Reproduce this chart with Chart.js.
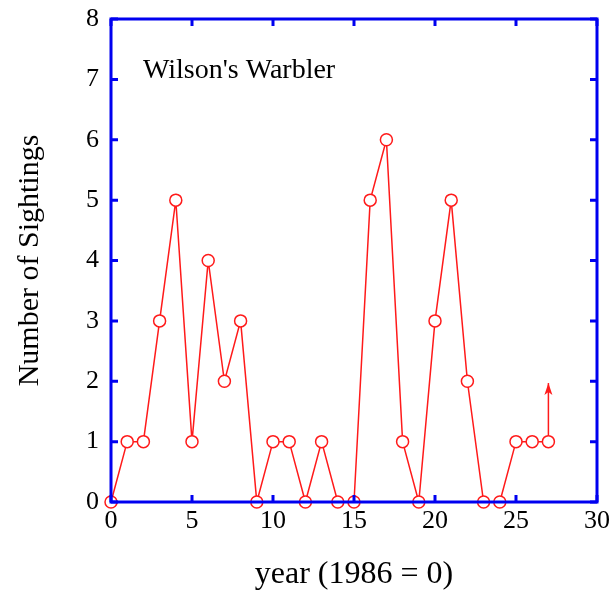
<!DOCTYPE html>
<html>
<head>
<meta charset="utf-8">
<style>
  html, body { margin: 0; padding: 0; background: #fff; }
  #wrap { width: 610px; height: 591px; }
</style>
<script src="https://cdn.jsdelivr.net/npm/chart.js@4/dist/chart.umd.min.js"></script>
</head>
<body>
<div id="wrap"><canvas id="chart" width="610" height="591"></canvas></div>
<script>
// sightings per year (year 0 = 1986)
const years = [0, 1, 2, 3, 4, 5, 6, 7, 8, 9, 10, 11, 12, 13, 14, 15, 16, 17, 18, 19, 20, 21, 22, 23, 24, 25, 26, 27];
const sightings = [0, 1, 1, 3, 5, 1, 4, 2, 3, 0, 1, 1, 0, 1, 0, 0, 5, 6, 1, 0, 3, 5, 2, 0, 0, 1, 1, 1];
// arrow on last year, pointing up
const arrowX = [27, 27];
const arrowY = [1, 1.97];
const xTicks = [0, 5, 10, 15, 20, 25, 30];
const yTicks = [0, 1, 2, 3, 4, 5, 6, 7, 8];

const BLUE = '#0000f0';
const RED = '#ff1a1a';
const SERIF = "'Liberation Serif', 'Times New Roman', serif";

// no extra room for labels hanging past the plot edges
const noPad = s => { s.paddingTop = 0; s.paddingBottom = 0; s.paddingLeft = 0; s.paddingRight = 0; };

// frame, inward ticks on all four sides, arrowhead and label
const framePlugin = {
  id: 'frame',
  afterDraw(chart) {
    const { ctx, chartArea: a, scales } = chart;
    ctx.save();
    ctx.strokeStyle = BLUE;
    ctx.lineWidth = 3;
    ctx.beginPath();
    xTicks.forEach(v => {
      const px = scales.x.getPixelForValue(v);
      ctx.moveTo(px, a.bottom); ctx.lineTo(px, a.bottom - 7);
      ctx.moveTo(px, a.top); ctx.lineTo(px, a.top + 7);
    });
    yTicks.forEach(v => {
      const py = scales.y.getPixelForValue(v);
      ctx.moveTo(a.left, py); ctx.lineTo(a.left + 7, py);
      ctx.moveTo(a.right, py); ctx.lineTo(a.right - 7, py);
    });
    ctx.stroke();
    ctx.strokeRect(a.left, a.top, a.right - a.left, a.bottom - a.top);

    // arrowhead
    const pts = chart.getDatasetMeta(1).data;
    const tip = pts[pts.length - 1];
    ctx.fillStyle = RED;
    ctx.beginPath();
    ctx.moveTo(tip.x, tip.y);
    ctx.lineTo(tip.x - 4, tip.y + 12);
    ctx.lineTo(tip.x, tip.y + 9);
    ctx.lineTo(tip.x + 4, tip.y + 12);
    ctx.closePath();
    ctx.fill();

    ctx.fillStyle = '#000';
    ctx.font = '28px ' + SERIF;
    ctx.textBaseline = 'alphabetic';
    ctx.fillText("Wilson's Warbler", a.left + 32, a.top + 59);
    ctx.restore();
  }
};

const ctx = document.getElementById('chart').getContext('2d');
new Chart(ctx, {
  type: 'scatter',
  data: {
    datasets: [{
      data: years.map((x, i) => ({ x, y: sightings[i] })),
      showLine: true,
      borderColor: RED,
      borderWidth: 1.5,
      pointRadius: 6,
      pointBorderWidth: 1.5,
      pointBackgroundColor: '#fff',
      pointBorderColor: RED,
      clip: false
    }, {
      data: arrowX.map((x, i) => ({ x, y: arrowY[i] })),
      showLine: true,
      borderColor: RED,
      borderWidth: 1.5,
      pointRadius: 0,
      clip: false
    }]
  },
  options: {
    responsive: false,
    animation: false,
    layout: { padding: { left: 0, top: 19, right: 13, bottom: 0 } },
    plugins: { legend: { display: false }, tooltip: { enabled: false } },
    scales: {
      x: {
        type: 'linear', min: 0, max: 30,
        afterFit: s => { s.height = 89; noPad(s); },
        afterBuildTicks: s => { s.ticks = xTicks.map(v => ({ value: v })); },
        ticks: { color: '#000', font: { family: SERIF, size: 26 }, padding: 4, maxRotation: 0 },
        grid: { display: false, drawTicks: false },
        border: { display: false },
        title: { display: true, text: 'year (1986 = 0)', color: '#000', font: { family: SERIF, size: 32 }, padding: { top: 0, bottom: -3 } }
      },
      y: {
        type: 'linear', min: 0, max: 8,
        afterFit: s => { s.width = 111; noPad(s); },
        afterBuildTicks: s => { s.ticks = yTicks.map(v => ({ value: v })); },
        ticks: { color: '#000', font: { family: SERIF, size: 26 }, padding: 12 },
        grid: { display: false, drawTicks: false },
        border: { display: false },
        title: { display: true, text: 'Number of Sightings', color: '#000', font: { family: SERIF, size: 30 }, padding: { top: 12, bottom: 0 } }
      }
    }
  },
  plugins: [framePlugin]
});
</script>
</body>
</html>
